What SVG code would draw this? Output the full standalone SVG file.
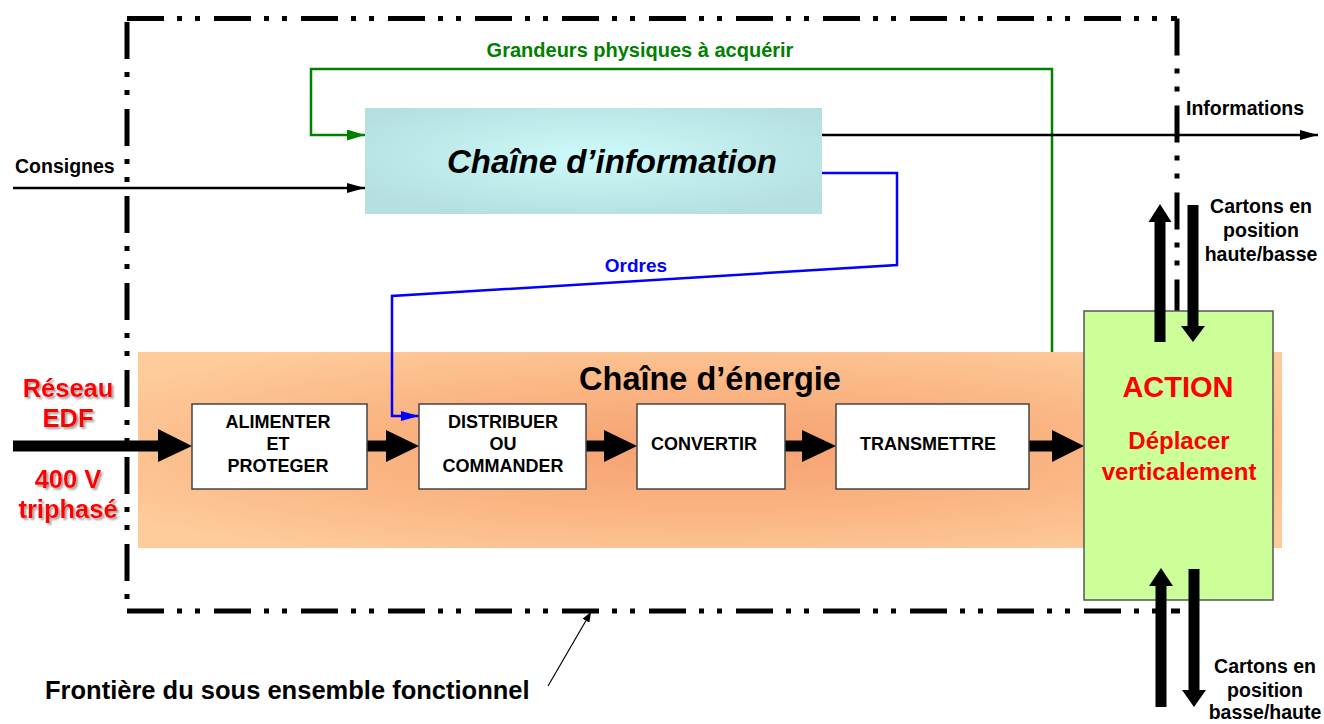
<svg xmlns="http://www.w3.org/2000/svg" width="1324" height="724" viewBox="0 0 1324 724">
<style>
text{font-family:"Liberation Sans",Arial,Helvetica,sans-serif;font-weight:bold}
.lbl{font-size:19.5px;fill:#000}
.box{fill:#fff;stroke:#444;stroke-width:1.5}
.boxt{font-size:18px;fill:#000;text-anchor:middle}
.red{fill:#f00;text-anchor:middle}
.bnd{stroke:#000;stroke-width:5;fill:none;stroke-dasharray:37 13 5 13 5 14}
.thick{fill:#000}
</style>
<defs>
<radialGradient id="og" cx="0.5" cy="0.5" r="0.62">
<stop offset="0" stop-color="#f6a070"/>
<stop offset="0.55" stop-color="#fab684"/>
<stop offset="1" stop-color="#fecb9a"/>
</radialGradient>
<radialGradient id="ig" cx="0.5" cy="0.45" r="0.6">
<stop offset="0" stop-color="#cdfafa"/>
<stop offset="1" stop-color="#b5dfe0"/>
</radialGradient>
<marker id="mk" markerWidth="18" markerHeight="10" refX="18" refY="5" orient="auto" markerUnits="userSpaceOnUse">
<path d="M0,0 L18,5 L0,10 Z" fill="#000"/>
</marker>
<marker id="mg" markerWidth="18" markerHeight="11" refX="18" refY="5.5" orient="auto" markerUnits="userSpaceOnUse">
<path d="M0,0 L18,5.5 L0,11 Z" fill="#008000"/>
</marker>
<marker id="mb" markerWidth="18" markerHeight="10" refX="18" refY="5" orient="auto" markerUnits="userSpaceOnUse">
<path d="M0,0 L18,5 L0,10 Z" fill="#0000ff"/>
</marker>
<marker id="ms" markerWidth="10" markerHeight="8" refX="10" refY="4" orient="auto" markerUnits="userSpaceOnUse">
<path d="M0,0 L10,4 L0,8 Z" fill="#000"/>
</marker>
<filter id="sh" x="-10%" y="-20%" width="130%" height="150%">
<feDropShadow dx="2" dy="2" stdDeviation="1" flood-color="#777" flood-opacity="0.7"/>
</filter>
</defs>

<g id="energy-chain">
<rect x="138" y="352" width="1144" height="196" fill="url(#og)"/>
<text x="710" y="390" font-size="32.5" text-anchor="middle" fill="#000">Chaîne d’énergie</text>
</g>

<g id="boundary">
<line class="bnd" x1="127" y1="18.5" x2="1177" y2="18.5"/>
<line class="bnd" x1="127" y1="22" x2="127" y2="611"/>
<line class="bnd" x1="127" y1="611" x2="1180" y2="611"/>
<line class="bnd" x1="1177" y1="18.5" x2="1177" y2="330"/>
</g>

<g id="info-chain">
<rect x="365" y="108" width="457" height="106" fill="url(#ig)"/>
<text x="612" y="173" font-size="33" font-style="italic" text-anchor="middle" fill="#000">Chaîne d’information</text>
</g>

<g id="connectors">
<polyline points="1052,352 1052,69 311,69 311,135 365,135" fill="none" stroke="#008000" stroke-width="2.5" marker-end="url(#mg)"/>
<line x1="13" y1="188" x2="365" y2="188" stroke="#000" stroke-width="2.5" marker-end="url(#mk)"/>
<line x1="822" y1="135" x2="1318" y2="135" stroke="#000" stroke-width="2.5" marker-end="url(#mk)"/>
<polyline points="822,173 897,173 897,265 392,296 392,416 419,416" fill="none" stroke="#0000ff" stroke-width="2.5" marker-end="url(#mb)"/>
<line x1="548" y1="686" x2="591" y2="612" stroke="#000" stroke-width="1.2" marker-end="url(#ms)"/>
<polygon class="thick" points="13,440.5 158,440.5 158,429 192,446 158,462 158,451.5 13,451.5"/>
<polygon class="thick" points="367,440.5 386,440.5 386,430 419,446 386,462 386,451.5 367,451.5"/>
<polygon class="thick" points="586,440.5 604,440.5 604,430 637,446 604,462 604,451.5 586,451.5"/>
<polygon class="thick" points="785,440.5 802,440.5 802,430 836,446 802,462 802,451.5 785,451.5"/>
<polygon class="thick" points="1029,440.5 1052,440.5 1052,430 1084,446 1052,462 1052,451.5 1029,451.5"/>
</g>

<g id="box-alimenter">
<rect class="box" x="192" y="404" width="175" height="85"/>
<text class="boxt" x="278" y="428">ALIMENTER</text>
<text class="boxt" x="278" y="450">ET</text>
<text class="boxt" x="278" y="472">PROTEGER</text>
</g>
<g id="box-distribuer">
<rect class="box" x="419" y="404" width="167" height="85"/>
<text class="boxt" x="503" y="428">DISTRIBUER</text>
<text class="boxt" x="503" y="450">OU</text>
<text class="boxt" x="503" y="472">COMMANDER</text>
</g>
<g id="box-convertir">
<rect class="box" x="637" y="404" width="148" height="85"/>
<text class="boxt" x="704" y="450">CONVERTIR</text>
</g>
<g id="box-transmettre">
<rect class="box" x="836" y="404" width="193" height="85"/>
<text class="boxt" x="928" y="450">TRANSMETTRE</text>
</g>
<g id="box-action">
<rect x="1084" y="311" width="189" height="289" fill="#ccff99" stroke="#555" stroke-width="1.5"/>
<text class="red" x="1178" y="397" font-size="29">ACTION</text>
<text class="red" x="1179" y="449" font-size="24">Déplacer</text>
<text class="red" x="1179" y="480" font-size="24">verticalement</text>
</g>

<g id="flow-arrows">
<polygon class="thick" points="1154.5,342 1154.5,222 1148.5,222 1160,204 1171.5,222 1165.5,222 1165.5,342"/>
<polygon class="thick" points="1187.5,205 1198.5,205 1198.5,326 1205,326 1193,342 1181,326 1187.5,326"/>
<polygon class="thick" points="1155.5,707 1155.5,586 1149,586 1161,568 1173,586 1166.5,586 1166.5,707"/>
<polygon class="thick" points="1188.5,569 1199.5,569 1199.5,690 1206,690 1194,707 1182,690 1188.5,690"/>
</g>

<g id="labels">
<text x="640" y="57" font-size="20" text-anchor="middle" fill="#008000">Grandeurs physiques à acquérir</text>
<text class="lbl" x="15" y="173">Consignes</text>
<text class="lbl" x="1186" y="115">Informations</text>
<text x="636" y="272" font-size="19" text-anchor="middle" fill="#0000ff">Ordres</text>
<text class="lbl" x="1261" y="213" text-anchor="middle">Cartons en</text>
<text class="lbl" x="1261" y="237" text-anchor="middle">position</text>
<text class="lbl" x="1261" y="261" text-anchor="middle">haute/basse</text>
<text class="lbl" x="1265" y="673" text-anchor="middle">Cartons en</text>
<text class="lbl" x="1265" y="697" text-anchor="middle">position</text>
<text class="lbl" x="1265" y="719" text-anchor="middle">basse/haute</text>
<g filter="url(#sh)" font-size="25.5">
<text class="red" x="68" y="397">Réseau</text>
<text class="red" x="68" y="427">EDF</text>
<text class="red" x="68" y="488">400 V</text>
<text class="red" x="68" y="518">triphasé</text>
</g>
<text x="45" y="699" font-size="25.5" fill="#000">Frontière du sous ensemble fonctionnel</text>
</g>
</svg>
